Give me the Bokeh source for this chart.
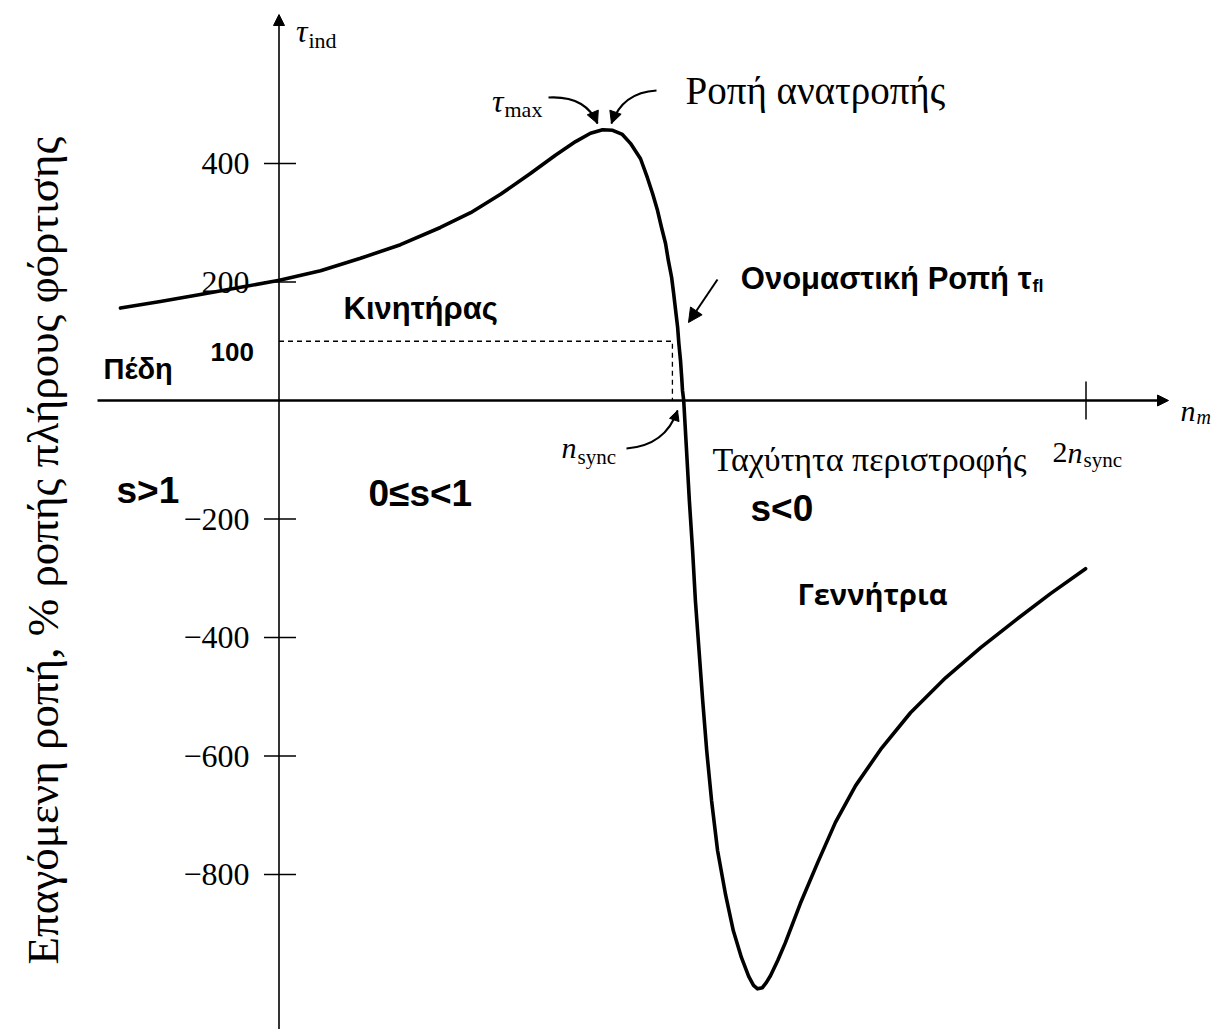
import math
from bokeh.plotting import figure
from bokeh.models import Arrow, NormalHead
from bokeh.core.properties import value
from bokeh.embed import file_html
from bokeh.resources import INLINE

# Torque-speed characteristic of an induction machine.
# speed: mechanical speed in multiples of n_sync; torque: induced torque in % of full-load torque
speed = [-0.393, -0.294, -0.195, -0.095, 0.001, 0.103, 0.202, 0.301, 0.400, 0.475,
         0.549, 0.623, 0.685, 0.735, 0.772, 0.802, 0.827, 0.851, 0.871, 0.896,
         0.913, 0.926, 0.938, 0.948, 0.958, 0.965, 0.973, 0.978, 0.983, 0.988,
         0.991, 0.995, 0.998, 1.000, 1.003, 1.010, 1.017, 1.025, 1.032, 1.041,
         1.050, 1.060, 1.072, 1.087, 1.107, 1.126, 1.146, 1.164, 1.176, 1.186,
         1.198, 1.208, 1.218, 1.236, 1.255, 1.292, 1.335, 1.379, 1.429, 1.491,
         1.565, 1.652, 1.739, 1.825, 1.912, 1.999]
torque = [156, 167, 179, 191, 203, 219, 240, 263, 292, 317,
          348, 383, 414, 437, 451, 457, 456, 449, 434, 408,
          376, 349, 321, 292, 265, 236, 208, 181, 152, 123,
          96, 68, 39, 17, 0, -84, -169, -253, -338, -422,
          -506, -591, -675, -760, -835, -895, -940, -972, -987, -993,
          -991, -982, -971, -945, -915, -849, -780, -712, -650, -589,
          -527, -468, -417, -371, -326, -284]

# rated (full-load) operating point
rated_speed = 0.975
rated_torque = 100

# vertical axis ticks
y_ticks = [400, 200, -200, -400, -600, -800]
y_tick_labels = ["400", "200", "\u2212200", "\u2212400", "\u2212600", "\u2212800"]

# horizontal axis tick (2 n_sync)
x_ticks = [2]

W, H = 1214, 1029
# canvas geometry: origin at screen pixel (278.5, 400); 403.5 px per n_sync; 0.5925 px per %
X0, Y0, KX, KY = 278.5, 400.0, 403.5, 0.5925


def sx(px):
    return (px - X0) / KX


def sy(py):
    return (Y0 - py) / KY


p = figure(width=W, height=H, x_range=(sx(0), sx(W)), y_range=(sy(H), sy(0)),
           output_backend="svg", toolbar_location=None,
           x_axis_location=None, y_axis_location=None, min_border=0,
           outline_line_color=None, background_fill_color="white",
           border_fill_color="white")
p.grid.visible = False

SERIF = "Liberation Serif"
SANS = "Liberation Sans"


def label(px, py, txt, size, font=SERIF, style="normal", align="left",
          baseline="alphabetic", angle=0.0):
    p.text(x=[sx(px)], y=[sy(py)], text=[txt], text_font=value(font),
           text_font_size=value(f"{size}px"), text_font_style=value(style),
           text_align=value(align), text_baseline=value(baseline),
           angle=angle, text_color="black")


def head(x_from, y_from, x_to, y_to, size=12):
    p.add_layout(Arrow(end=NormalHead(size=size, fill_color="black",
                                      line_color="black", line_width=1),
                       x_start=sx(x_from), y_start=sy(y_from),
                       x_end=sx(x_to), y_end=sy(y_to),
                       line_alpha=0))


def curved_arrow(x_a, y_a, x_c, y_c, x_b, y_b, size=12, width=2.2):
    p.quadratic(x0=[sx(x_a)], y0=[sy(y_a)], x1=[sx(x_b)], y1=[sy(y_b)],
                cx=[sx(x_c)], cy=[sy(y_c)], line_color="black", line_width=width)
    head(x_b - 0.3 * (x_b - x_c), y_b - 0.3 * (y_b - y_c), x_b, y_b, size)


# axes with arrow heads
p.add_layout(Arrow(end=NormalHead(size=11, fill_color="black", line_color="black"),
                   x_start=0, y_start=sy(H), x_end=0, y_end=sy(14),
                   line_color="black", line_width=1.6))
p.add_layout(Arrow(end=NormalHead(size=11, fill_color="black", line_color="black"),
                   x_start=sx(97), y_start=0, x_end=sx(1168), y_end=0,
                   line_color="black", line_width=2.6))

# y ticks and labels
p.segment(x0=[sx(263.5)] * len(y_ticks), y0=y_ticks,
          x1=[sx(295.5)] * len(y_ticks), y1=y_ticks,
          line_color="black", line_width=1.5)
p.text(x=[sx(249)] * len(y_ticks), y=y_ticks, text=y_tick_labels,
       text_font=value(SERIF), text_font_size=value("32px"),
       text_align=value("right"), text_baseline=value("middle"), text_color="black")

# x tick at 2 n_sync
p.segment(x0=x_ticks, y0=[sy(381)] * len(x_ticks), x1=x_ticks, y1=[sy(419)] * len(x_ticks),
          line_color="black", line_width=1.5)

# rated-point guides
p.line([0, rated_speed, rated_speed], [rated_torque, rated_torque, 0],
       line_color="black", line_width=1.3, line_dash="5 4")

# torque-speed curve
p.line(speed, torque, line_color="black", line_width=3.6,
       line_join="round", line_cap="round")

# axis titles
label(307, 30, "\u03c4", 32, style="italic", align="right")
label(308, 40, "ind", 22)
label(1195, 410, "n", 30, style="italic", align="right")
label(1196, 416, "m", 20, style="italic")
label(712, 459, "Ταχύτητα περιστροφής", 34)
label(42, 550, "Επαγόμενη ροπή, % ροπής πλήρους φόρτισης", 45,
      align="center", baseline="middle", angle=math.pi / 2)

# special speeds
label(576, 447, "n", 30, style="italic", align="right")
label(577, 456, "sync", 21)
label(1067, 452, "2", 30, align="right")
label(1082, 452, "n", 30, style="italic", align="right")
label(1083, 459, "sync", 21)

# maximum (breakdown) torque
label(503, 100, "\u03c4", 32, style="italic", align="right")
label(504, 109, "max", 22)
label(685, 90, "Ροπή ανατροπής", 39)
curved_arrow(548, 97, 585, 95, 597, 123)
curved_arrow(656, 90, 622, 92, 611, 123)

# synchronous speed marker
curved_arrow(626, 448, 665, 445, 677, 410, size=10)

# rated torque
label(1031, 278, "Ονομαστική Ροπή τ", 31, font=SANS, style="bold", align="right")
label(1032, 285, "fl", 18, font=SANS, style="bold")
p.add_layout(Arrow(end=NormalHead(size=14, fill_color="black", line_color="black"),
                   x_start=sx(717), y_start=sy(279), x_end=sx(688), y_end=sy(322),
                   line_color="black", line_width=2))
label(210, 351, "100", 26, font=SANS, style="bold")

# operating regions
label(343, 308, "Κινητήρας", 31, font=SANS, style="bold")
label(103, 368, "Πέδη", 29, font=SANS, style="bold")
label(797, 593, "Γεννήτρια", 29, font="Open Sans", style="bold")
label(116, 490, "s>1", 37, font=SANS, style="bold")
label(368, 493, "0\u2264s<1", 37, font=SANS, style="bold")
label(750, 508, "s<0", 37, font=SANS, style="bold")

open("out.html", "w").write(file_html(p, INLINE))
